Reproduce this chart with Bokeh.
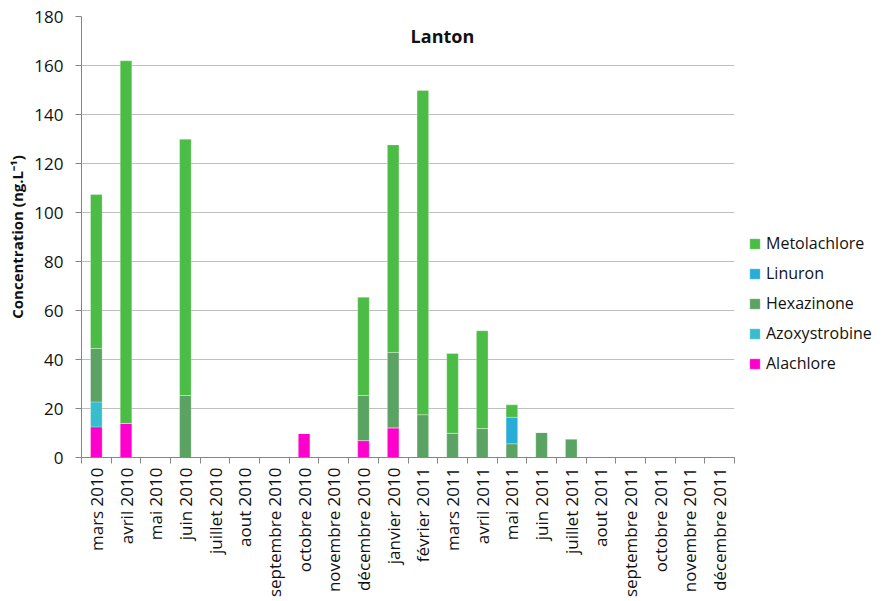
import math
from bokeh.plotting import figure
from bokeh.models import (Range1d, FixedTicker, Legend, LegendItem, Label, ColumnDataSource)
from bokeh.embed import file_html
from bokeh.resources import INLINE

months = ["mars 2010", "avril 2010", "mai 2010", "juin 2010", "juillet 2010", "aout 2010",
          "septembre 2010", "octobre 2010", "novembre 2010", "décembre 2010", "janvier 2010",
          "février 2011", "mars 2011", "avril 2011", "mai 2011", "juin 2011", "juillet 2011",
          "aout 2011", "septembre 2011", "octobre 2011", "novembre 2011", "décembre 2011"]

alachlore     = [12.5, 13.9, 0, 0, 0, 0, 0, 9.8, 0, 6.9, 12.1, 0, 0, 0, 0, 0, 0, 0, 0, 0, 0, 0]
azoxystrobine = [10.2, 0, 0, 0, 0, 0, 0, 0, 0, 0, 0, 0, 0, 0, 0, 0, 0, 0, 0, 0, 0, 0]
hexazinone    = [21.8, 0, 0, 25.3, 0, 0, 0, 0, 0, 18.4, 30.8, 17.5, 9.9, 11.8, 5.6, 10.2, 7.6, 0, 0, 0, 0, 0]
linuron       = [0, 0, 0, 0, 0, 0, 0, 0, 0, 0, 0, 0, 0, 0, 10.8, 0, 0, 0, 0, 0, 0, 0]
metolachlore  = [62.8, 148.0, 0, 104.6, 0, 0, 0, 0, 0, 40.1, 84.7, 132.3, 32.5, 39.9, 5.1, 0, 0, 0, 0, 0, 0, 0]

series = ["Alachlore", "Azoxystrobine", "Hexazinone", "Linuron", "Metolachlore"]
colors = ["#FF00CC", "#38BDCC", "#5BA362", "#2AACD8", "#4BBC45"]
y_ticks = [0, 20, 40, 60, 80, 100, 120, 140, 160, 180]

n = len(months)
centers = [i + 0.5 for i in range(n)]
bounds = [float(i) for i in range(n + 1)]

src = ColumnDataSource(dict(x=centers, Alachlore=alachlore, Azoxystrobine=azoxystrobine,
                            Hexazinone=hexazinone, Linuron=linuron, Metolachlore=metolachlore))

FONT = "Open Sans"

p = figure(frame_width=653, frame_height=441, output_backend="svg", toolbar_location=None,
           x_range=Range1d(0, n), y_range=Range1d(0, 180),
           min_border_left=81, min_border_right=142, min_border_top=16, min_border_bottom=140)
p.outline_line_color = None
p.background_fill_color = "white"
p.border_fill_color = "white"

rs = p.vbar_stack(series, x="x", width=0.39, source=src, color=colors,
                  line_color="white", line_alpha=0.35, line_width=0.8)

# x axis
xa = p.xaxis[0]
xa.ticker = FixedTicker(ticks=centers, minor_ticks=bounds)
xa.major_label_overrides = {c: m for c, m in zip(centers, months)}
xa.major_label_orientation = math.pi / 2
xa.major_tick_out = 0
xa.major_tick_in = 0
xa.minor_tick_out = 6
xa.minor_tick_in = 0
xa.minor_tick_line_color = "#868686"
xa.axis_line_color = "#868686"
xa.major_label_text_font = FONT
xa.major_label_text_font_size = "17px"
xa.major_label_text_color = "#111111"
xa.major_label_standoff = 4

# y axis
ya = p.yaxis[0]
ya.ticker = FixedTicker(ticks=y_ticks)
ya.minor_tick_line_color = None
ya.major_tick_out = 6
ya.major_tick_in = 0
ya.major_tick_line_color = "#868686"
ya.axis_line_color = "#868686"
ya.major_label_text_font = FONT
ya.major_label_text_font_size = "17px"
ya.major_label_text_color = "#111111"
ya.major_label_standoff = 12
ya.axis_label = "Concentration (ng.L⁻¹)"
ya.axis_label_text_font = FONT
ya.axis_label_text_font_style = "bold"
ya.axis_label_text_font_size = "15px"
ya.axis_label_text_color = "#111111"
ya.axis_label_standoff = 4

p.xgrid.grid_line_color = None
p.ygrid.ticker = FixedTicker(ticks=y_ticks)
p.ygrid.grid_line_color = "#BFBFBF"
p.ygrid.grid_line_width = 1

# title inside plot
p.add_layout(Label(x=12.16, y=172.2, text="Lanton", text_font=FONT, text_font_style="bold",
                   text_font_size="18px", text_align="center", text_baseline="middle",
                   text_color="#111111"))

items = [LegendItem(label=s, renderers=[r]) for s, r in zip(series, rs)][::-1]
legend = Legend(items=items, location=(14, 83), orientation="vertical",
                label_text_font=FONT, label_text_font_size="16px", label_text_color="#111111",
                glyph_width=13, glyph_height=13, label_height=20, spacing=8,
                label_standoff=5, padding=0, margin=0, border_line_color=None,
                background_fill_alpha=0)
p.add_layout(legend, "right")

open("out.html", "w").write(file_html(p, INLINE))
